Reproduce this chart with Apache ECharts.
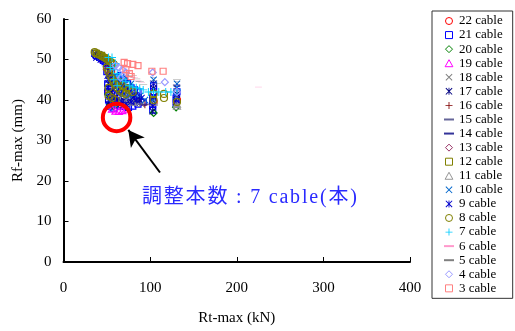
<!DOCTYPE html>
<html>
<head>
<meta charset="utf-8">
<script src="https://cdn.jsdelivr.net/npm/echarts@6/dist/echarts.min.js"></script>
<style>
  html, body { margin: 0; padding: 0; background: #fff; }
  #chart { width: 515px; height: 331px; }
</style>
</head>
<body>
<div id="chart"></div>
<script>
// Axis ticks
var xTicks = [0, 100, 200, 300, 400];
var yTicks = [0, 10, 20, 30, 40, 50, 60];

// Legend / series names, top to bottom
var cableNames = ['22 cable', '21 cable', '20 cable', '19 cable', '18 cable', '17 cable', '16 cable',
  '15 cable', '14 cable', '13 cable', '12 cable', '11 cable', '10 cable', '9 cable', '8 cable',
  '7 cable', '6 cable', '5 cable', '4 cable', '3 cable'];

// [Rt-max (kN), Rf-max (mm)] per cable count
var cable22 = [[45, 50], [55, 47], [52, 42], [60, 42], [66, 39], [104, 39.5], [131, 40]];
var cable21 = [[36, 51.5], [38, 51], [40, 50.8], [42, 50.5], [44, 50.2], [46, 49.8], [48, 49.5], [50, 49], [52, 48.5],
  [50, 47], [53, 46], [56, 45.5], [58, 44.5], [55, 43], [60, 43], [63, 44], [66, 43], [58, 41.5], [62, 41],
  [66, 40.5], [70, 41], [74, 40], [78, 40.5], [84, 41], [55, 39.5], [60, 39], [65, 38.5], [70, 38.5], [75, 38.2],
  [80, 38.5], [86, 39], [92, 39.5], [51, 44], [51, 42], [52, 40], [53, 38.5], [58, 38], [62, 45.5], [66, 46],
  [70, 45], [74, 44], [78, 43], [82, 42.5], [86, 42], [103, 37.5], [103, 39], [103, 40.5], [104, 42], [104, 43.5],
  [130, 39], [130, 40.5], [131, 42]];
var cable20 = [[52, 41.5], [54, 38.8], [58, 38.5], [104, 36.8], [130, 38.2]];
var cable19 = [[56, 37.8], [60, 37.3], [64, 37.2], [68, 37.4], [72, 37.8]];
var cable18 = [[44, 50.5], [50, 48.5], [56, 46], [60, 44], [64, 43], [70, 40.5], [76, 40], [84, 39.5], [90, 39],
  [54, 41], [58, 39], [70, 43], [80, 41.5], [86, 40.5], [104, 43], [130, 43]];
var cable17 = [[37, 51.2], [41, 51.3], [46, 50.5], [51, 48], [54, 46.5], [58, 45], [61, 43.5], [55, 42], [59, 40.5],
  [64, 39.8], [70, 39.8], [76, 39.5], [82, 39.3], [88, 40], [52, 44], [52, 39], [66, 44], [74, 43], [80, 40.5],
  [103, 37.2], [103, 39.8], [104, 42.8], [130, 39.5], [131, 41.5]];
var cable16 = [[94, 38.8]];
var cable15 = [[80, 45.5], [86, 44.5], [104, 45.5], [131, 44.5]];
var cable14 = [[68, 39], [72, 39], [76, 39], [80, 39], [84, 39], [88, 39], [92, 39], [96, 39], [100, 39], [104, 39]];
var cable13 = [[50, 47.5], [60, 44]];
var cable12 = [[38, 51.5], [44, 51], [50, 50], [56, 49]];
var cable11 = [[68, 40.5], [74, 39.8], [80, 39.5], [104, 39.5], [131, 39], [131, 38.5]];
var cable10 = [[48, 50.5], [52, 49.5], [56, 48], [59, 46], [62, 44], [66, 44.5], [70, 43], [64, 42], [70, 41.5],
  [76, 41], [82, 41.5], [88, 41], [94, 40], [52, 42], [56, 39], [72, 45.5], [78, 44], [103, 40], [104, 45],
  [130, 41], [131, 44]];
var cable9 = [[38, 50.5], [43, 50], [49, 49], [54, 48], [52, 45], [57, 44], [62, 42.5], [68, 42], [56, 41], [61, 40],
  [67, 39.5], [72, 39], [78, 39.5], [84, 40], [90, 40.5], [51, 46], [51, 43], [53, 40], [70, 44], [75, 42.5],
  [82, 41], [103, 38.5], [104, 41], [104, 44], [130, 40], [131, 43]];
var cable8 = [[36, 51.8], [38, 51.5], [40, 51.3], [42, 51.1], [44, 50.9], [46, 50.6], [48, 50.4], [50, 50.1],
  [52, 49.8], [54, 49.5], [56, 49.2], [58, 48.8], [50, 48], [52, 47], [54, 46], [56, 45.2], [58, 44.5], [60, 43.8],
  [62, 43], [65, 42.3], [68, 41.8], [72, 41.5], [52, 43], [52, 41], [56, 40.5], [60, 40], [64, 44.5], [68, 43.5],
  [72, 43], [76, 42.5], [80, 42], [104, 41.5], [104, 40], [116, 41.5], [116, 40.5], [131, 39.5]];
var cable7 = [[52, 50.5], [56, 50.5], [60, 49], [58, 47.5], [62, 46.5], [65, 46], [68, 45], [72, 44.5], [76, 43.5],
  [80, 43.2], [84, 43], [88, 42.8], [92, 42.5], [54, 48], [58, 45], [62, 43.5], [98, 42], [104, 42], [110, 42],
  [118, 42], [124, 42], [131, 42.5]];
var cable6 = [[70, 47.5], [74, 47], [78, 46.5], [82, 45.5], [86, 44.8], [90, 44.3], [225, 43.2]];
var cable5 = [[76, 46.5], [80, 46], [84, 45.2], [88, 44.5], [92, 43.8], [104, 44.7], [108, 44], [131, 45], [131, 43.5]];
var cable4 = [[60, 48.5], [64, 48], [68, 47.5], [72, 46.8], [66, 45.5], [103, 46.8], [117, 44.4], [131, 42]];
var cable3 = [[70, 49.3], [74, 49], [80, 48.8], [86, 48.5], [72, 47.5], [76, 46.5], [78, 45.8], [102, 47.1], [115, 47.1]];

// Highlighted case (7 cables) and the arrow pointing at it
var highlightPoint = [61.3, 35.7];
var arrowFrom = [111.4, 22.1];
var arrowTo = [74.8, 32.6];
var noteText = '調整本数 : 7 cable(本)';

var seriesData = [cable22, cable21, cable20, cable19, cable18, cable17, cable16, cable15, cable14, cable13,
  cable12, cable11, cable10, cable9, cable8, cable7, cable6, cable5, cable4, cable3];

// Marker shapes
var SQUARE_PATH = 'path://M0,0H10V10H0Z';
var DIAMOND_PATH = 'path://M5,0L10,5L5,10L0,5Z';
var TRIANGLE_PATH = 'path://M5,0L10,9L0,9Z';
var X_PATH = 'path://M0,1L1,0L10,9L9,10Z M9,0L10,1L1,10L0,9Z';
var STAR_PATH = 'path://M0,1L1,0L10,9L9,10Z M9,0L10,1L1,10L0,9Z M4.4,0H5.6V10H4.4Z';
var PLUS_PATH = 'path://M4.4,0H5.6V10H4.4Z M0,4.4H10V5.6H0Z';
var DASH_PATH = 'path://M0,0H10V2H0Z';

var styles = [
  { sym: 'circle', size: 7, color: '#ff0000', hollow: true },
  { sym: SQUARE_PATH, size: 6, color: '#0000ff', hollow: true },
  { sym: DIAMOND_PATH, size: 7, color: '#008000', hollow: true },
  { sym: TRIANGLE_PATH, size: 7, color: '#ff00ff', hollow: true },
  { sym: X_PATH, size: 7, color: '#808080' },
  { sym: STAR_PATH, size: 7, color: '#000080' },
  { sym: PLUS_PATH, size: 7, color: '#800000' },
  { sym: DASH_PATH, size: [5, 2], color: '#666699' },
  { sym: DASH_PATH, size: [9, 2.5], color: '#333399' },
  { sym: DIAMOND_PATH, size: 7, color: '#993366', hollow: true },
  { sym: SQUARE_PATH, size: 6, color: '#808000', hollow: true },
  { sym: TRIANGLE_PATH, size: 7, color: '#969696', hollow: true },
  { sym: X_PATH, size: 7, color: '#0066cc' },
  { sym: STAR_PATH, size: 7, color: '#0000cc' },
  { sym: 'circle', size: 7, color: '#808000', hollow: true },
  { sym: PLUS_PATH, size: 8, color: '#00ccff' },
  { sym: DASH_PATH, size: [7, 2], color: '#ff99cc' },
  { sym: DASH_PATH, size: [8, 2], color: '#808080' },
  { sym: DIAMOND_PATH, size: 7, color: '#9999ff', hollow: true },
  { sym: SQUARE_PATH, size: 6, color: '#ff8080', hollow: true }
];

var FONT = '"Liberation Serif", "Times New Roman", serif';
var NOTE_FONT_SIZE = 20;
var NOTE_SPACING = 1.8;

var series = cableNames.map(function (name, i) {
  var s = styles[i];
  return {
    name: name,
    type: 'scatter',
    data: seriesData[i],
    symbol: s.sym,
    symbolSize: s.size,
    symbolKeepAspect: true,
    itemStyle: s.hollow
      ? { color: 'rgba(255,255,255,0)', borderColor: s.color, borderWidth: 1.2, opacity: 1 }
      : { color: s.color, opacity: 1 },
    emphasis: { disabled: true },
    z: 2
  };
});

// Red ring around the highlighted case, plus the arrow
series.push({
  name: 'highlight',
  type: 'scatter',
  data: [highlightPoint],
  symbol: 'circle',
  symbolSize: 27.5,
  itemStyle: { color: 'rgba(255,255,255,0)', borderColor: '#ff0000', borderWidth: 4, opacity: 1 },
  emphasis: { disabled: true },
  z: 5,
  markLine: {
    silent: true,
    symbol: ['none', 'arrow'],
    symbolSize: [13, 16],
    label: { show: false },
    lineStyle: { color: '#000', width: 2, type: 'solid' },
    data: [[{ coord: arrowFrom }, { coord: arrowTo }]]
  }
});

// Note under the arrow, laid out glyph by glyph with a little tracking
function noteGlyphs(text, left, top) {
  var font = NOTE_FONT_SIZE + 'px "Liberation Serif", "Noto Sans CJK JP", serif';
  var ctx = document.createElement('canvas').getContext('2d');
  ctx.font = font;
  var x = left;
  var out = [];
  Array.from(text).forEach(function (ch) {
    if (ch !== ' ') {
      out.push({
        type: 'text',
        x: x,
        y: top,
        silent: true,
        style: { text: ch, font: font, fill: '#2a2aff' }
      });
    }
    x += ctx.measureText(ch).width + NOTE_SPACING;
  });
  return out;
}

var chart = echarts.init(document.getElementById('chart'), null, { renderer: 'canvas' });
chart.setOption({
  animation: false,
  backgroundColor: '#fff',
  textStyle: { fontFamily: FONT },
  grid: { left: 63.5, right: 105, top: 19, bottom: 65, containLabel: false },
  xAxis: {
    type: 'value',
    min: xTicks[0],
    max: xTicks[xTicks.length - 1],
    interval: 100,
    name: 'Rt-max (kN)',
    nameLocation: 'middle',
    nameGap: 49,
    nameTextStyle: { fontFamily: FONT, fontSize: 15, color: '#000' },
    axisLine: { lineStyle: { color: '#000', width: 2 } },
    axisTick: { inside: true, length: 5, lineStyle: { color: '#000', width: 1 } },
    axisLabel: { fontFamily: FONT, fontSize: 15, color: '#000', margin: 19 },
    splitLine: { show: false }
  },
  yAxis: {
    type: 'value',
    min: yTicks[0],
    max: yTicks[yTicks.length - 1],
    interval: 10,
    name: 'Rf-max (mm)',
    nameLocation: 'middle',
    nameGap: 34,
    nameTextStyle: { fontFamily: FONT, fontSize: 15, color: '#000' },
    axisLine: { lineStyle: { color: '#000', width: 2 } },
    axisTick: { inside: true, length: 5, lineStyle: { color: '#000', width: 1 } },
    axisLabel: { fontFamily: FONT, fontSize: 15, color: '#000', margin: 12 },
    splitLine: { show: false }
  },
  legend: {
    data: cableNames,
    orient: 'vertical',
    left: 432,
    top: 11,
    padding: [3, 10, 3, 12],
    itemWidth: 10,
    itemHeight: 7,
    itemGap: 0.07,
    itemTextGap: 2,
    itemStyle: { borderWidth: 1 },
    borderColor: '#333',
    borderWidth: 1,
    selectedMode: false,
    textStyle: { fontFamily: FONT, fontSize: 13, color: '#000', lineHeight: 14 }
  },
  graphic: noteGlyphs(noteText, 142, 188),
  series: series
});
</script>
</body>
</html>
